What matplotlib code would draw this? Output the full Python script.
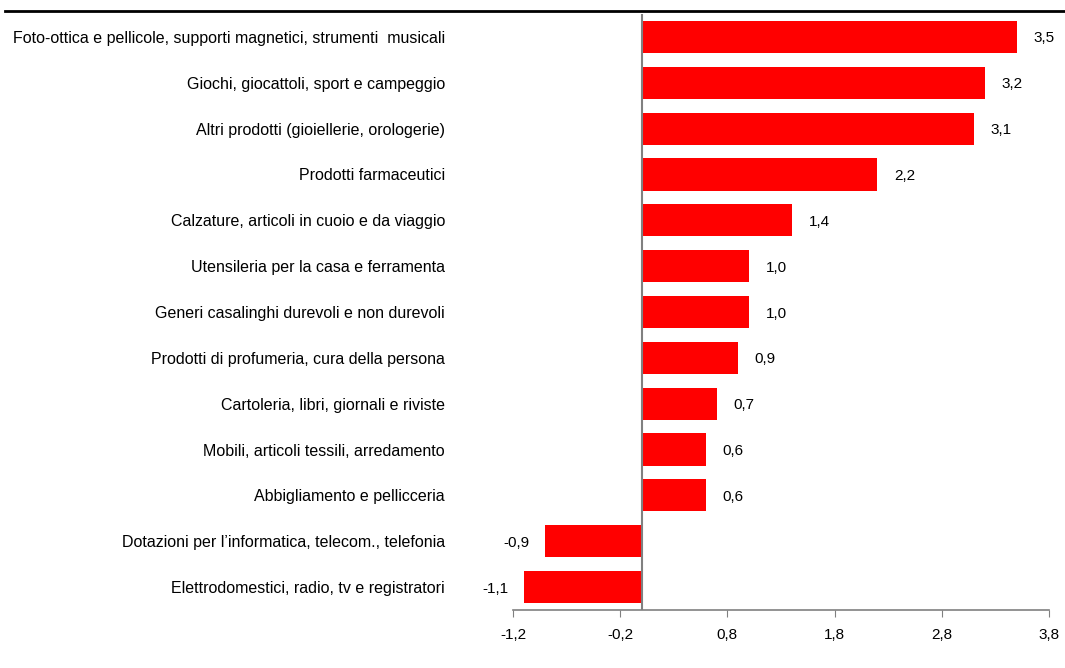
import matplotlib; matplotlib.use("Agg")
import matplotlib.pyplot as plt
from matplotlib.lines import Line2D

categories = ["Foto-ottica e pellicole, supporti magnetici, strumenti  musicali",
              "Giochi, giocattoli, sport e campeggio",
              "Altri prodotti (gioiellerie, orologerie)",
              "Prodotti farmaceutici",
              "Calzature, articoli in cuoio e da viaggio",
              "Utensileria per la casa e ferramenta",
              "Generi casalinghi durevoli e non durevoli",
              "Prodotti di profumeria, cura della persona",
              "Cartoleria, libri, giornali e riviste",
              "Mobili, articoli tessili, arredamento",
              "Abbigliamento e pellicceria",
              "Dotazioni per l\u2019informatica, telecom., telefonia",
              "Elettrodomestici, radio, tv e registratori"]
values = [3.5, 3.2, 3.1, 2.2, 1.4, 1.0, 1.0, 0.9, 0.7, 0.6, 0.6, -0.9, -1.1]
xticks = [-1.2, -0.2, 0.8, 1.8, 2.8, 3.8]

plt.rcParams['font.family'] = ['Liberation Sans', 'DejaVu Sans']

fig = plt.figure(figsize=(10.65, 6.68), dpi=100)
ax = fig.add_axes([513/1065, 1-610/668, (1049-513)/1065, (610-14)/668])

y = list(range(len(values)))
ax.barh(y, values, height=0.7, color="#ff0000", edgecolor="none", zorder=2)
ax.set_ylim(len(values)-0.5, -0.5)
ax.set_xlim(-1.2, 3.8)
ax.axvline(0, color="#808080", lw=1.5, zorder=3)

for yi, v in zip(y, values):
    txt = f"{v:.1f}".replace(".", ",")
    if v >= 0:
        ax.annotate(txt, (v, yi), xytext=(12, 0), textcoords="offset points",
                    ha="left", va="center_baseline", fontsize=11)
    else:
        ax.annotate(txt, (v, yi), xytext=(-11, 0), textcoords="offset points",
                    ha="right", va="center_baseline", fontsize=11)

ax.set_yticks(y)
ax.set_yticklabels(categories, fontsize=11.5)
ax.tick_params(axis="y", length=0, pad=49)
ax.set_xticks(xticks)
ax.set_xticklabels([f"{t:.1f}".replace(".", ",") for t in xticks], fontsize=11)
ax.tick_params(axis="x", direction="out", length=5, color="#808080", pad=8)

for s in ["top", "right", "left"]:
    ax.spines[s].set_visible(False)
ax.spines["bottom"].set_color("#808080")
ax.spines["bottom"].set_linewidth(1.2)

fig.add_artist(Line2D([5/1065, 1], [1-11/668, 1-11/668], color="black", lw=2,
                      transform=fig.transFigure))

fig.savefig("out.png", dpi=100)
